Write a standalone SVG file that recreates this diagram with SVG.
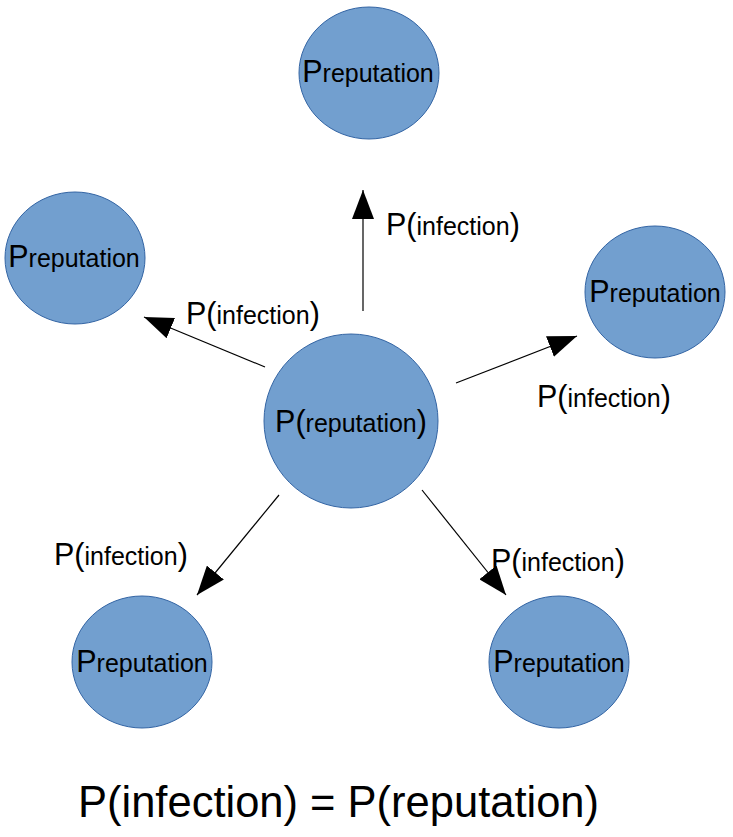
<svg xmlns="http://www.w3.org/2000/svg" width="733" height="837" viewBox="0 0 733 837">
<style>
.n{fill:#729fcf;stroke:#3465a4;stroke-width:1}
text{font-family:"Liberation Sans",Arial,sans-serif;fill:#000}
.b{font-size:30.5px}
.s{font-size:25px}
.c{stroke:#000;stroke-width:1.2;fill:none}
</style>
<defs>
<marker id="ah" markerUnits="userSpaceOnUse" markerWidth="30" markerHeight="22" viewBox="0 0 30 22" refX="29" refY="11" orient="auto">
<path d="M0,0 L29,11 L0,22 Z" fill="#000"/>
</marker>
</defs>
<rect width="733" height="837" fill="#fff"/>
<g id="connectors">
<line class="c" x1="363" y1="311" x2="363" y2="190" marker-end="url(#ah)"/>
<line class="c" x1="265" y1="367" x2="144" y2="317" marker-end="url(#ah)"/>
<line class="c" x1="456" y1="383" x2="577" y2="336" marker-end="url(#ah)"/>
<line class="c" x1="279" y1="495" x2="197" y2="595" marker-end="url(#ah)"/>
<line class="c" x1="422" y1="490" x2="506" y2="595" marker-end="url(#ah)"/>
</g>
<g id="node-center"><circle class="n" cx="351" cy="421" r="87"/><text x="351" y="432" text-anchor="middle"><tspan class="b">P(</tspan><tspan class="s">reputation</tspan><tspan class="b">)</tspan></text></g>
<g id="node-top"><ellipse class="n" cx="369" cy="73" rx="70" ry="66"/><text x="368" y="82" text-anchor="middle"><tspan class="b">P</tspan><tspan class="s">reputation</tspan></text></g>
<g id="node-left"><ellipse class="n" cx="75" cy="258" rx="70" ry="66"/><text x="74" y="267" text-anchor="middle"><tspan class="b">P</tspan><tspan class="s">reputation</tspan></text></g>
<g id="node-right"><ellipse class="n" cx="655" cy="292" rx="70" ry="66"/><text x="655" y="302" text-anchor="middle"><tspan class="b">P</tspan><tspan class="s">reputation</tspan></text></g>
<g id="node-bottom-left"><ellipse class="n" cx="142" cy="662" rx="70" ry="66"/><text x="142" y="672" text-anchor="middle"><tspan class="b">P</tspan><tspan class="s">reputation</tspan></text></g>
<g id="node-bottom-right"><ellipse class="n" cx="559" cy="662" rx="70" ry="66"/><text x="559" y="672" text-anchor="middle"><tspan class="b">P</tspan><tspan class="s">reputation</tspan></text></g>
<g id="labels">
<text x="386" y="235"><tspan class="b">P(</tspan><tspan class="s">infection</tspan><tspan class="b">)</tspan></text>
<text x="186" y="324"><tspan class="b">P(</tspan><tspan class="s">infection</tspan><tspan class="b">)</tspan></text>
<text x="537" y="407"><tspan class="b">P(</tspan><tspan class="s">infection</tspan><tspan class="b">)</tspan></text>
<text x="54" y="565"><tspan class="b">P(</tspan><tspan class="s">infection</tspan><tspan class="b">)</tspan></text>
<text x="491" y="571"><tspan class="b">P(</tspan><tspan class="s">infection</tspan><tspan class="b">)</tspan></text>
</g>
<g id="title"><text x="78" y="817" font-size="43.5">P(infection) = P(reputation)</text></g>
</svg>
